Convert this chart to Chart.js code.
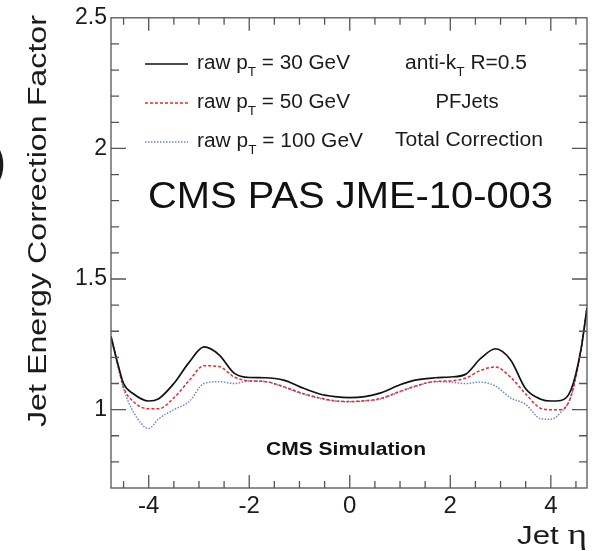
<!DOCTYPE html>
<html>
<head>
<meta charset="utf-8">
<script src="https://cdn.jsdelivr.net/npm/chart.js@4/dist/chart.umd.min.js"></script>
<style>
  body { margin: 0; background: #fff; }
  #wrap { width: 595px; height: 551px; position: relative; }
</style>
</head>
<body>
<div id="wrap"><canvas id="jecChart"></canvas></div>
<script>
const etaValues = [-4.75, -4.6, -4.5, -4.3, -4.0, -3.8, -3.5, -3.2, -2.9, -2.6, -2.3, -2.0, -1.7, -1.3, -1.0, -0.6, -0.3, 0,
                   0.3, 0.6, 1.0, 1.3, 1.7, 2.0, 2.3, 2.6, 2.9, 3.2, 3.5, 3.8, 4.0, 4.2, 4.4, 4.6, 4.72];
const corr30 = [1.28, 1.165, 1.10, 1.06, 1.033, 1.042, 1.10, 1.18, 1.24, 1.21, 1.14, 1.123, 1.122, 1.112, 1.088, 1.06, 1.05, 1.046,
                1.05, 1.063, 1.095, 1.113, 1.122, 1.125, 1.135, 1.195, 1.233, 1.19, 1.08, 1.04, 1.033, 1.035, 1.075, 1.23, 1.39];
const corr50 = [1.28, 1.16, 1.085, 1.03, 1.003, 1.003, 1.045, 1.11, 1.168, 1.165, 1.125, 1.11, 1.108, 1.087, 1.066, 1.045, 1.034, 1.031,
                1.034, 1.042, 1.07, 1.09, 1.108, 1.11, 1.12, 1.15, 1.163, 1.124, 1.06, 1.005, 1.0, 1.0, 1.05, 1.23, 1.39];
const corr100 = [1.28, 1.155, 1.08, 0.99, 0.928, 0.965, 1.0, 1.03, 1.10, 1.107, 1.10, 1.11, 1.108, 1.085, 1.064, 1.043, 1.033, 1.03,
                 1.033, 1.04, 1.068, 1.088, 1.107, 1.105, 1.10, 1.105, 1.09, 1.045, 1.02, 0.965, 0.963, 0.99, 1.05, 1.23, 1.39];
const seriesLabels = ["30", "50", "100"];
const xMajorTicks = [-4, -2, 0, 2, 4];
const yMajorTicks = [1, 1.5, 2, 2.5];

const FONT = '"Liberation Sans", Arial, sans-serif';
const TEXT = "#1b1b1b";

function toPoints(vals) {
    return etaValues.map((x, i) => ({ x: x, y: vals[i] }));
}

// draw a run of [text, size, dy, family?] pieces, stretched to a target width
function drawRuns(ctx, runs, x, y, width, align, weight) {
    const fontOf = r => (weight || "") + " " + r[1] + "px " + (r[3] || FONT);
    let total = 0;
    runs.forEach(r => {
        ctx.font = fontOf(r);
        total += ctx.measureText(r[0]).width;
    });
    const s = width ? width / total : 1;
    let start = x;
    if (align === "center") start = x - total * s / 2;
    if (align === "right") start = x - total * s;
    ctx.save();
    ctx.translate(start, y);
    ctx.scale(s, 1);
    ctx.textAlign = "left";
    ctx.textBaseline = "alphabetic";
    let cx = 0;
    runs.forEach(r => {
        ctx.font = fontOf(r);
        ctx.fillText(r[0], cx, r[2]);
        cx += ctx.measureText(r[0]).width;
    });
    ctx.restore();
}

const framePlugin = {
    id: "frame",
    afterDraw(chart) {
        const ctx = chart.ctx;
        const a = chart.chartArea;
        const xs = chart.scales.x;
        const ys = chart.scales.y;
        ctx.save();
        ctx.strokeStyle = "#555";
        ctx.lineWidth = 1.3;
        ctx.strokeRect(a.left, a.top, a.right - a.left, a.bottom - a.top);

        // x ticks, inward, bottom and top
        ctx.beginPath();
        for (let v = -4.5; v <= 4.51; v += 0.5) {
            const px = xs.getPixelForValue(v);
            const len = Math.abs(v % 2) < 0.01 ? 13 : 7;
            ctx.moveTo(px, a.bottom); ctx.lineTo(px, a.bottom - len);
            ctx.moveTo(px, a.top); ctx.lineTo(px, a.top + len);
        }
        // y ticks, inward, left and right
        for (let i = 8; i <= 24; i++) {
            const v = i / 10;
            const py = ys.getPixelForValue(v);
            const len = i % 5 === 0 ? 15 : 8;
            ctx.moveTo(a.left, py); ctx.lineTo(a.left + len, py);
            ctx.moveTo(a.right, py); ctx.lineTo(a.right - len, py);
        }
        ctx.stroke();

        // legend samples
        const rows = [64, 103, 142];
        const styles = [
            { c: "#111", d: [], w: 1.6 },
            { c: "#e8282a", d: [3, 2], w: 1.4 },
            { c: "#6a86d6", d: [1.5, 1.5], w: 1.5 }
        ];
        styles.forEach((st, i) => {
            ctx.beginPath();
            ctx.strokeStyle = st.c;
            ctx.lineWidth = st.w;
            ctx.setLineDash(st.d);
            ctx.moveTo(145, rows[i]); ctx.lineTo(188, rows[i]);
            ctx.stroke();
        });
        ctx.setLineDash([]);

        ctx.fillStyle = TEXT;
        const legendWidths = [153, 153, 166];
        seriesLabels.forEach((lab, i) => {
            drawRuns(ctx, [["raw p", 20, 0], ["T", 13, 7], [" = " + lab + " GeV", 20, 0]],
                197, rows[i] + 5, legendWidths[i], "left");
        });

        drawRuns(ctx, [["anti-k", 20, 0], ["T", 13, 7], [" R=0.5", 20, 0]], 466, 69, 122, "center");
        drawRuns(ctx, [["PFJets", 20, 0]], 467, 108, 63, "center");
        drawRuns(ctx, [["Total Correction", 20, 0]], 469, 146, 148, "center");

        ctx.fillStyle = "#111";
        drawRuns(ctx, [["CMS PAS JME-10-003", 36, 0]], 148, 208, 405, "left");
        drawRuns(ctx, [["CMS Simulation", 19, 0]], 266, 455, 160, "left", "bold");

        // axis titles
        ctx.fillStyle = TEXT;
        ctx.save();
        ctx.translate(46, 427);
        ctx.rotate(-Math.PI / 2);
        drawRuns(ctx, [["Jet Energy Correction Factor", 26, 0]], 0, 0, 412, "left");
        ctx.restore();

        drawRuns(ctx, [["Jet ", 25, 0], ["\u03b7", 30, 0, '"Liberation Serif", serif']], 587, 544, 70, "right");

        // clipped glyph at the left edge
        ctx.font = "bold 40px " + FONT;
        ctx.textAlign = "left";
        ctx.fillText(")", -8, 176);
        ctx.restore();
    }
};

new Chart(document.getElementById("jecChart"), {
    type: "scatter",
    data: {
        datasets: [
            { label: "raw pT = 30 GeV", data: toPoints(corr30), borderColor: "#111", borderWidth: 1.7 },
            { label: "raw pT = 50 GeV", data: toPoints(corr50), borderColor: "#e8282a", borderWidth: 1.5, borderDash: [3, 2] },
            { label: "raw pT = 100 GeV", data: toPoints(corr100), borderColor: "#6a86d6", borderWidth: 1.5, borderDash: [1.5, 1.5] }
        ].map(d => Object.assign(d, { showLine: true, pointRadius: 0, cubicInterpolationMode: "monotone", fill: false }))
    },
    options: {
        responsive: true,
        maintainAspectRatio: false,
        animation: false,
        layout: { padding: { left: 0, right: 8, top: 17, bottom: 0 } },
        plugins: { legend: { display: false }, tooltip: { enabled: false } },
        scales: {
            x: {
                type: "linear",
                min: -4.75,
                max: 4.72,
                grid: { display: false, drawTicks: false },
                border: { display: false },
                afterFit: s => { s.height = 63; },
                afterBuildTicks: s => { s.ticks = xMajorTicks.map(v => ({ value: v })); },
                ticks: {
                    padding: 4,
                    color: TEXT,
                    font: { family: FONT, size: 24 },
                    callback: v => String(v)
                }
            },
            y: {
                type: "linear",
                min: 0.7,
                max: 2.5,
                grid: { display: false, drawTicks: false },
                border: { display: false },
                afterFit: s => { s.width = 111; },
                afterBuildTicks: s => { s.ticks = yMajorTicks.map(v => ({ value: v })); },
                ticks: {
                    padding: 4,
                    color: TEXT,
                    font: { family: FONT, size: 23 },
                    callback: v => String(v)
                }
            }
        }
    },
    plugins: [framePlugin]
});
</script>
</body>
</html>
